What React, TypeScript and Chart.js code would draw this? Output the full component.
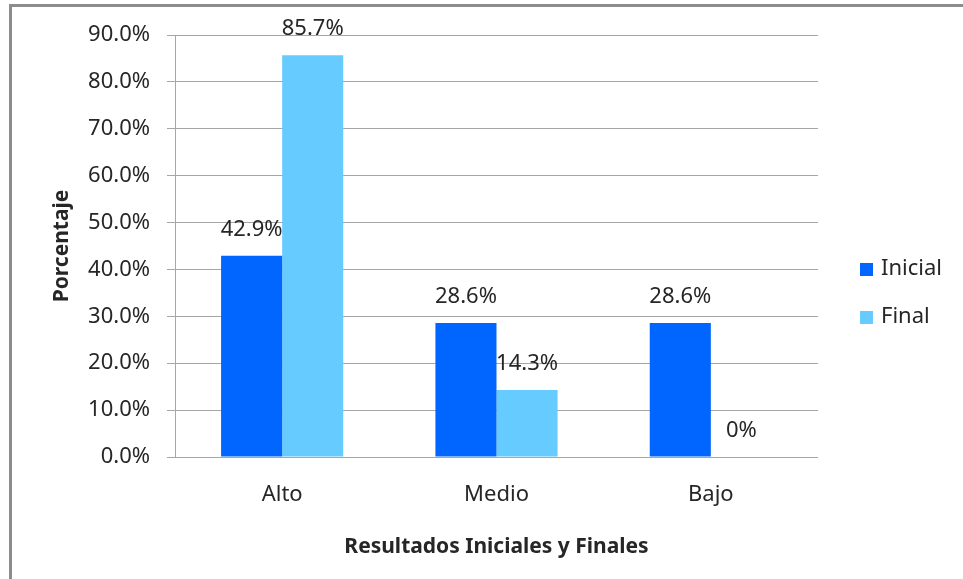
import React, { useEffect, useRef } from "react";
import { Chart, registerables } from "chart.js";
Chart.register(...registerables);

const categories = ["Alto", "Medio", "Bajo"];
const seriesNames = ["Inicial", "Final"];
const inicialValues = [42.9, 28.6, 28.6];
const finalValues = [85.7, 14.3, 0];
const inicialLabels = ["42.9%", "28.6%", "28.6%"];
const finalLabels = ["85.7%", "14.3%", "0%"];
const yMax = 90;
const yStep = 10;
const yTitle = "Porcentaje";
const xTitle = "Resultados Iniciales y Finales";
const colors = ["#0066FF", "#66CCFF"];

const FONT = "'Noto Sans', sans-serif";
const TEXT = "#262626";
const FS = 22;

export default function App() {
  const ref = useRef<HTMLCanvasElement | null>(null);
  useEffect(() => {
    if (!ref.current) return;
    const labelSets = [inicialLabels, finalLabels];
    const overlay = {
      id: "overlay",
      afterDatasetsDraw(chart: any) {
        const ctx = chart.ctx;
        ctx.save();
        ctx.fillStyle = TEXT;
        ctx.font = `${FS}px ${FONT}`;
        ctx.textAlign = "center";
        ctx.textBaseline = "middle";
        chart.data.datasets.forEach((_: any, di: number) => {
          const meta = chart.getDatasetMeta(di);
          meta.data.forEach((el: any, i: number) => {
            ctx.fillText(labelSets[di][i], el.x, el.y - 26);
          });
        });
        // axis titles
        ctx.font = `bold 21px ${FONT}`;
        const ca = chart.chartArea;
        ctx.save();
        ctx.translate(62, (ca.top + ca.bottom) / 2);
        ctx.rotate(-Math.PI / 2);
        ctx.fillText(yTitle, 0, 0);
        ctx.restore();
        ctx.fillText(xTitle, (ca.left + ca.right) / 2, 547);
        // legend
        ctx.font = `${FS}px ${FONT}`;
        ctx.textAlign = "left";
        seriesNames.forEach((name, i) => {
          const y = 269 + i * 48;
          ctx.fillStyle = colors[i];
          ctx.fillRect(860, y - 6, 13, 13);
          ctx.fillStyle = TEXT;
          ctx.fillText(name, 881, y);
        });
        ctx.restore();
      },
    };
    const chart = new Chart(ref.current, {
      type: "bar",
      data: {
        labels: categories,
        datasets: [
          { label: seriesNames[0], data: inicialValues, backgroundColor: colors[0], categoryPercentage: 0.57, barPercentage: 1 },
          { label: seriesNames[1], data: finalValues, backgroundColor: colors[1], categoryPercentage: 0.57, barPercentage: 1 },
        ],
      },
      options: {
        responsive: false,
        animation: false,
        devicePixelRatio: 1,
        layout: { padding: { top: 35, right: 145, left: 0, bottom: 0 } },
        plugins: { legend: { display: false }, tooltip: { enabled: false } },
        scales: {
          x: {
            grid: { display: false, drawTicks: false },
            border: { display: false },
            ticks: { color: TEXT, font: { family: FONT, size: FS }, padding: 25 },
            afterFit(scale: any) { scale.height = 579 - 457; },
          },
          y: {
            min: 0,
            max: yMax,
            ticks: {
              stepSize: yStep,
              color: TEXT,
              font: { family: FONT, size: FS },
              padding: 17,
              callback: (v: any) => Number(v).toFixed(1) + "%",
            },
            grid: { color: "#a6a6a6", lineWidth: 1, tickLength: 8 },
            border: { display: true, color: "#a6a6a6" },
            afterFit(scale: any) { scale.width = 175; },
          },
        },
      },
      plugins: [overlay],
    });
    return () => chart.destroy();
  }, []);
  return (
    <div style={{ position: "fixed", left: 0, top: 0, width: 963, height: 579, overflow: "hidden", background: "#fff" }}>
      <div style={{ position: "absolute", left: 9, top: 4, width: 1100, height: 1100, border: "3px solid #8c8c8c", boxSizing: "border-box" }} />
      <canvas ref={ref} width={963} height={579} style={{ position: "absolute", left: 0, top: 0 }} />
    </div>
  );
}
